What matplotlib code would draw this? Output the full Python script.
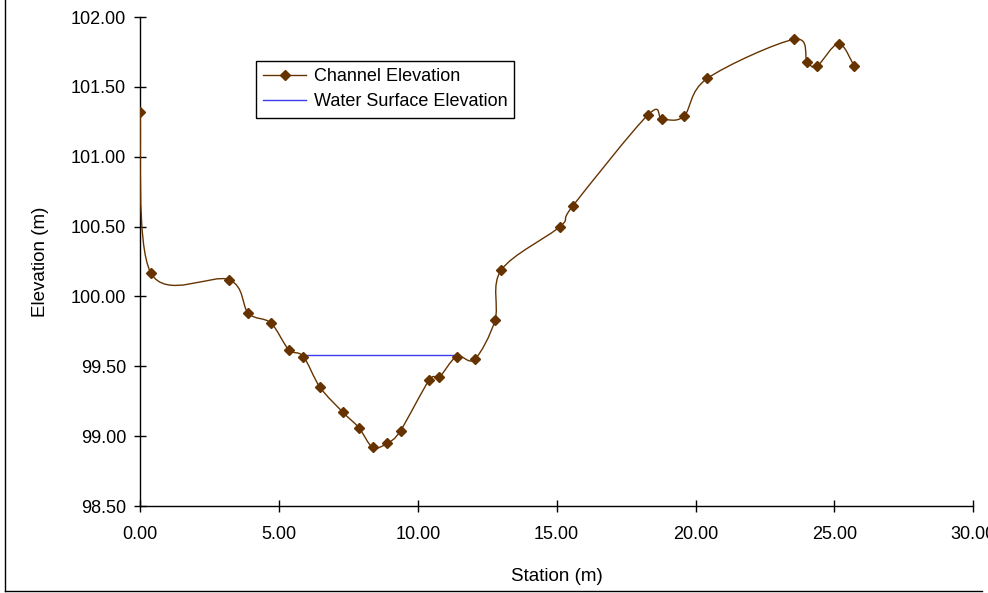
import numpy as np
import matplotlib
matplotlib.use("Agg")
import matplotlib.pyplot as plt
from matplotlib.path import Path
from matplotlib.patches import PathPatch
from matplotlib.lines import Line2D

plt.rcParams['font.family'] = ['Liberation Sans', 'DejaVu Sans']

# channel survey: station (m) and elevation (m)
station = [0.00, 0.385, 3.20, 3.90, 4.71, 5.35, 5.88, 6.48, 7.31, 7.88,
           8.38, 8.91, 9.38, 10.41, 10.77, 11.40, 12.05, 12.78, 13.01, 15.12,
           15.59, 18.29, 18.80, 19.58, 20.42, 23.55, 24.02, 24.38, 25.15, 25.71]
elevation = [101.32, 100.17, 100.12, 99.88, 99.81, 99.62, 99.57, 99.35, 99.17, 99.06,
             98.92, 98.95, 99.04, 99.40, 99.42, 99.57, 99.55, 99.83, 100.19, 100.50,
             100.65, 101.30, 101.27, 101.29, 101.56, 101.84, 101.68, 101.65, 101.81, 101.65]

water_station = [5.88, 11.40]
water_elevation = [99.58, 99.58]

brown = '#663300'
blue = '#3c3cec'


def smooth_path(xs, ys):
    # Catmull-Rom style bezier, like the spreadsheet "smoothed line"
    p = np.column_stack([xs, ys])
    n = len(p)
    verts = [p[0]]
    codes = [Path.MOVETO]
    for i in range(n - 1):
        p0 = p[i - 1] if i > 0 else p[i]
        p1 = p[i]
        p2 = p[i + 1]
        p3 = p[i + 2] if i + 2 < n else p[i + 1]
        c1 = p1 + (p2 - p0) / 6.0
        c2 = p2 - (p3 - p1) / 6.0
        verts += [c1, c2, p2]
        codes += [Path.CURVE4] * 3
    return Path(verts, codes)


fig = plt.figure(figsize=(9.88, 5.93), dpi=100)
ax = fig.add_axes([140 / 988, 1 - 506 / 593, (973.3 - 140) / 988, (506 - 17) / 593])

ax.add_patch(PathPatch(smooth_path(station, elevation), facecolor='none',
                       edgecolor=brown, lw=1.0, zorder=3))
ax.plot(station, elevation, ls='none', marker='D', ms=5.5, color=brown, zorder=4)
ax.plot(water_station, water_elevation, color=blue, lw=1.0, zorder=2)

ax.set_xlim(0, 30)
ax.set_ylim(98.5, 102)
ax.set_xticks(np.arange(0, 30.01, 5))
ax.set_yticks(np.arange(98.5, 102.01, 0.5))
ax.xaxis.set_major_formatter(matplotlib.ticker.FormatStrFormatter('%.2f'))
ax.yaxis.set_major_formatter(matplotlib.ticker.FormatStrFormatter('%.2f'))

for s in ['top', 'right']:
    ax.spines[s].set_visible(False)
for s in ['left', 'bottom']:
    ax.spines[s].set_linewidth(1.0)
    ax.spines[s].set_color('black')

ax.tick_params(axis='y', direction='inout', length=8, width=1, labelsize=13, pad=6)
ax.tick_params(axis='x', direction='inout', length=9, width=1, labelsize=13, pad=10)

ax.set_xlabel('Station (m)', fontsize=13.5, labelpad=18)
ax.set_ylabel('Elevation (m)', fontsize=13.5, labelpad=16)

handles = [Line2D([], [], color=brown, lw=1.0, marker='D', ms=5),
           Line2D([], [], color=blue, lw=1.0)]
leg = ax.legend(handles, ['Channel Elevation', 'Water Surface Elevation'],
                loc='upper left', bbox_to_anchor=(0.139, 0.91), fontsize=13,
                frameon=True, fancybox=False, framealpha=1, edgecolor='black',
                handlelength=2.4, handletextpad=0.4, borderpad=0.4, labelspacing=0.45,
                borderaxespad=0)
leg.get_frame().set_linewidth(1.0)

# outer chart border (cropped at top and right)
fig.add_artist(Line2D([5 / 988, 5 / 988], [2 / 593, 1], color='black', lw=1.0))
fig.add_artist(Line2D([5 / 988, 982 / 988], [2 / 593, 2 / 593], color='black', lw=1.0))

fig.savefig('out.png', dpi=100)
